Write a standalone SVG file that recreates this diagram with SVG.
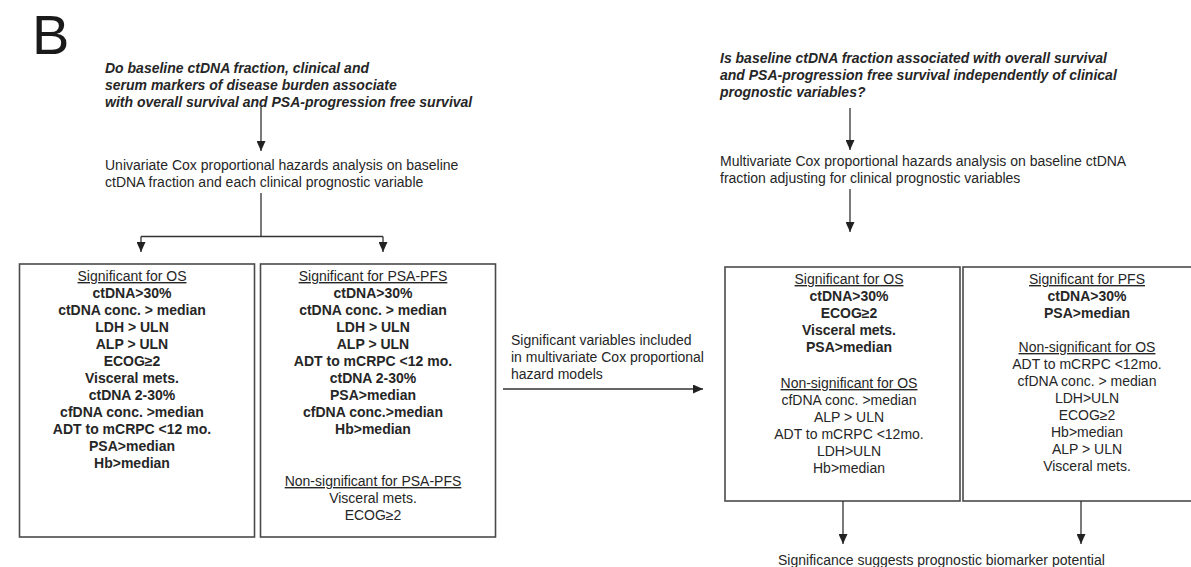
<svg xmlns="http://www.w3.org/2000/svg" width="1191" height="567" viewBox="0 0 1191 567">
<style>
text{font-family:"Liberation Sans",Arial,sans-serif;font-size:14px;fill:#262626}
.q{font-weight:bold;font-style:italic}
.b{font-weight:bold}
.u{text-decoration:underline}
.c{text-anchor:middle}
.box{fill:none;stroke:#4a4a4a;stroke-width:1.6}
.ln{fill:none;stroke:#333;stroke-width:1.3}
</style>
<defs>
<marker id="ah" markerUnits="userSpaceOnUse" markerWidth="10" markerHeight="9" refX="10" refY="4.5" orient="auto">
<path d="M0,0 L10,4.5 L0,9 z" fill="#222"/>
</marker>
</defs>
<rect width="1191" height="567" fill="#fff"/>
<text x="32" y="54" style="font-size:56px;fill:#1a1a1a">B</text>

<g id="q1">
<text class="q" x="105" y="73">Do baseline ctDNA fraction, clinical and</text>
<text class="q" x="105" y="90">serum markers of disease burden associate</text>
<text class="q" x="105" y="107">with overall survival and PSA-progression free survival</text>
</g>
<g id="uni">
<text x="105" y="170">Univariate Cox proportional hazards analysis on baseline</text>
<text x="105" y="187">ctDNA fraction and each clinical prognostic variable</text>
</g>
<g id="box-os">
<rect class="box" x="19.5" y="264" width="235" height="273"/>
<text class="c u" x="132" y="281">Significant for OS</text>
<text class="c b" x="132" y="298">ctDNA&gt;30%</text>
<text class="c b" x="132" y="315">ctDNA conc. &gt; median</text>
<text class="c b" x="132" y="332">LDH &gt; ULN</text>
<text class="c b" x="132" y="349">ALP &gt; ULN</text>
<text class="c b" x="132" y="366">ECOG≥2</text>
<text class="c b" x="132" y="383">Visceral mets.</text>
<text class="c b" x="132" y="400">ctDNA 2-30%</text>
<text class="c b" x="132" y="417">cfDNA conc. &gt;median</text>
<text class="c b" x="132" y="434">ADT to mCRPC &lt;12 mo.</text>
<text class="c b" x="132" y="451">PSA&gt;median</text>
<text class="c b" x="132" y="468">Hb&gt;median</text>
</g>
<g id="box-pfs">
<rect class="box" x="260.5" y="264" width="235" height="273"/>
<text class="c u" x="373" y="281">Significant for PSA-PFS</text>
<text class="c b" x="373" y="298">ctDNA&gt;30%</text>
<text class="c b" x="373" y="315">ctDNA conc. &gt; median</text>
<text class="c b" x="373" y="332">LDH &gt; ULN</text>
<text class="c b" x="373" y="349">ALP &gt; ULN</text>
<text class="c b" x="373" y="366">ADT to mCRPC &lt;12 mo.</text>
<text class="c b" x="373" y="383">ctDNA 2-30%</text>
<text class="c b" x="373" y="400">PSA&gt;median</text>
<text class="c b" x="373" y="417">cfDNA conc.&gt;median</text>
<text class="c b" x="373" y="434">Hb&gt;median</text>
<text class="c u" x="373" y="486">Non-significant for PSA-PFS</text>
<text class="c" x="373" y="503">Visceral mets.</text>
<text class="c" x="373" y="520">ECOG≥2</text>
</g>
<g id="mid">
<text x="511" y="345">Significant variables included</text>
<text x="511" y="362">in multivariate Cox proportional</text>
<text x="511" y="379">hazard models</text>
</g>
<g id="q2">
<text class="q" x="720" y="63">Is baseline ctDNA fraction associated with overall survival</text>
<text class="q" x="720" y="80">and PSA-progression free survival independently of clinical</text>
<text class="q" x="720" y="97">prognostic variables?</text>
</g>
<g id="multi">
<text x="720" y="166">Multivariate Cox proportional hazards analysis on baseline ctDNA</text>
<text x="720" y="183">fraction adjusting for clinical prognostic variables</text>
</g>
<g id="box-mos">
<rect class="box" x="725" y="267" width="235" height="234"/>
<text class="c u" x="849" y="284">Significant for OS</text>
<text class="c b" x="849" y="301">ctDNA&gt;30%</text>
<text class="c b" x="849" y="318">ECOG≥2</text>
<text class="c b" x="849" y="335">Visceral mets.</text>
<text class="c b" x="849" y="352">PSA&gt;median</text>
<text class="c u" x="849" y="388">Non-significant for OS</text>
<text class="c" x="849" y="405">cfDNA conc. &gt;median</text>
<text class="c" x="849" y="422">ALP &gt; ULN</text>
<text class="c" x="849" y="439">ADT to mCRPC &lt;12mo.</text>
<text class="c" x="849" y="456">LDH&gt;ULN</text>
<text class="c" x="849" y="473">Hb&gt;median</text>
</g>
<g id="box-mpfs">
<rect class="box" x="963" y="267" width="235" height="234"/>
<text class="c u" x="1087" y="284">Significant for PFS</text>
<text class="c b" x="1087" y="301">ctDNA&gt;30%</text>
<text class="c b" x="1087" y="318">PSA&gt;median</text>
<text class="c u" x="1087" y="352">Non-significant for OS</text>
<text class="c" x="1087" y="369">ADT to mCRPC &lt;12mo.</text>
<text class="c" x="1087" y="386">cfDNA conc. &gt; median</text>
<text class="c" x="1087" y="403">LDH&gt;ULN</text>
<text class="c" x="1087" y="420">ECOG≥2</text>
<text class="c" x="1087" y="437">Hb&gt;median</text>
<text class="c" x="1087" y="454">ALP &gt; ULN</text>
<text class="c" x="1087" y="471">Visceral mets.</text>
</g>
<g id="bottom">
<text x="778" y="565">Significance suggests prognostic biomarker potential</text>
</g>
<g id="connectors">
<path class="ln" d="M261,107 V151" marker-end="url(#ah)"/>
<path class="ln" d="M261,193 V236.5 M141,236.5 H383"/>
<path class="ln" d="M141,236.5 V252" marker-end="url(#ah)"/>
<path class="ln" d="M383,236.5 V252" marker-end="url(#ah)"/>
<path class="ln" d="M850,108 V150" marker-end="url(#ah)"/>
<path class="ln" d="M850,189 V232" marker-end="url(#ah)"/>
<path class="ln" d="M503,389 H703" marker-end="url(#ah)"/>
<path class="ln" d="M843,501 V544" marker-end="url(#ah)"/>
<path class="ln" d="M1081,501 V544" marker-end="url(#ah)"/>
</g>
</svg>
